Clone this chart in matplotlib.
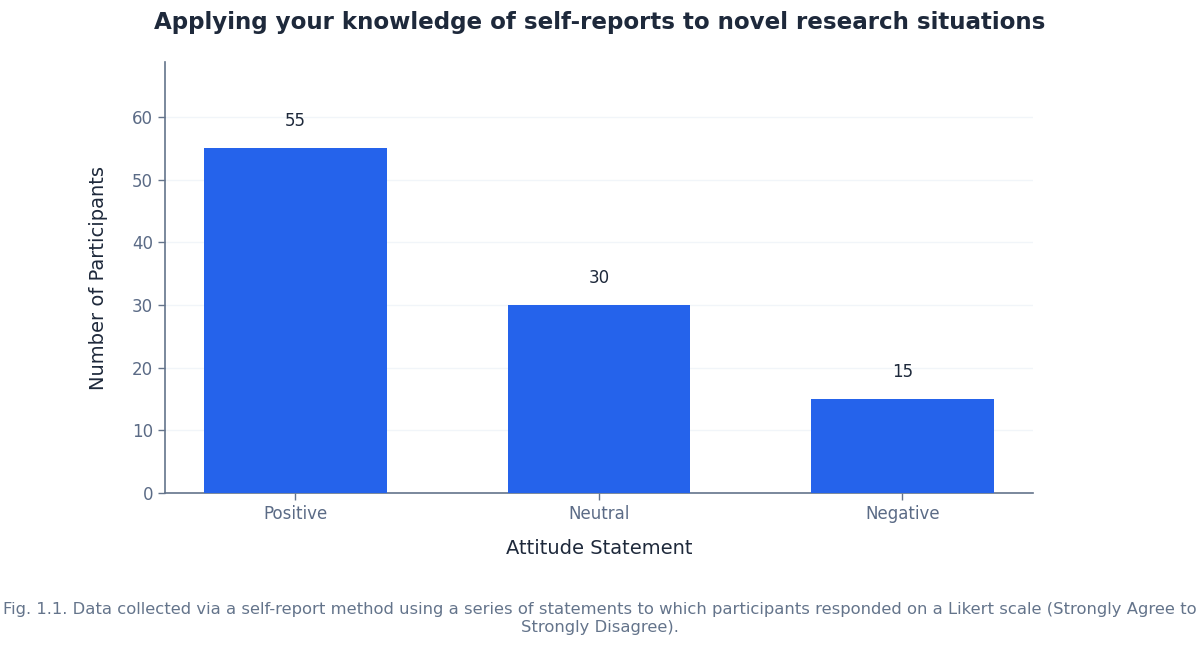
import matplotlib
matplotlib.use("Agg")
import matplotlib.pyplot as plt

categories = ["Positive", "Neutral", "Negative"]
values = [55, 30, 15]
yticks = [0, 10, 20, 30, 40, 50, 60]

title = "Applying your knowledge of self-reports to novel research situations"
xlabel = "Attitude Statement"
ylabel = "Number of Participants"
caption = ("Fig. 1.1. Data collected via a self-report method using a series of statements to which participants responded on a Likert scale (Strongly Agree to\n"
           "Strongly Disagree).")

plt.rcParams['font.family'] = ['DejaVu Sans']

fig = plt.figure(figsize=(12, 6.48), dpi=100)
ax = fig.add_axes([0.1375, 0.2392, 0.7233, 0.6651])

x = list(range(len(categories)))
ax.bar(x, values, width=0.6, color="#2563EB", zorder=3)
for xi, v in zip(x, values):
    ax.annotate(str(v), (xi, v), xytext=(0, 19.5), textcoords="offset points",
                ha="center", va="center", fontsize=12, color="#1e293b")

ax.set_xlim(-0.43, 2.43)
ax.set_ylim(0, 68.75)
ax.set_yticks(yticks)
ax.set_xticks(x)
ax.set_xticklabels(categories)
ax.grid(axis="y", color="#f1f5f9", linewidth=1, zorder=0)
for s in ["top", "right"]:
    ax.spines[s].set_visible(False)
for s in ["left", "bottom"]:
    ax.spines[s].set_color("#64748b")
    ax.spines[s].set_linewidth(1.2)
ax.tick_params(axis="both", colors="#64748b", labelsize=12, length=5, width=1, labelcolor="#5b6b86")
ax.set_xlabel(xlabel, fontsize=14, color="#1e293b", labelpad=12)
ax.set_ylabel(ylabel, fontsize=14, color="#1e293b", labelpad=17)

fig.text(0.5, 0.966, title, ha="center", va="center", fontsize=16.6, fontweight="bold", color="#1e293b")
fig.text(0.5, 0.0455, caption, ha="center", va="center", fontsize=11.8, color="#64748b", linespacing=1.25)

fig.savefig("out.png", dpi=100)
